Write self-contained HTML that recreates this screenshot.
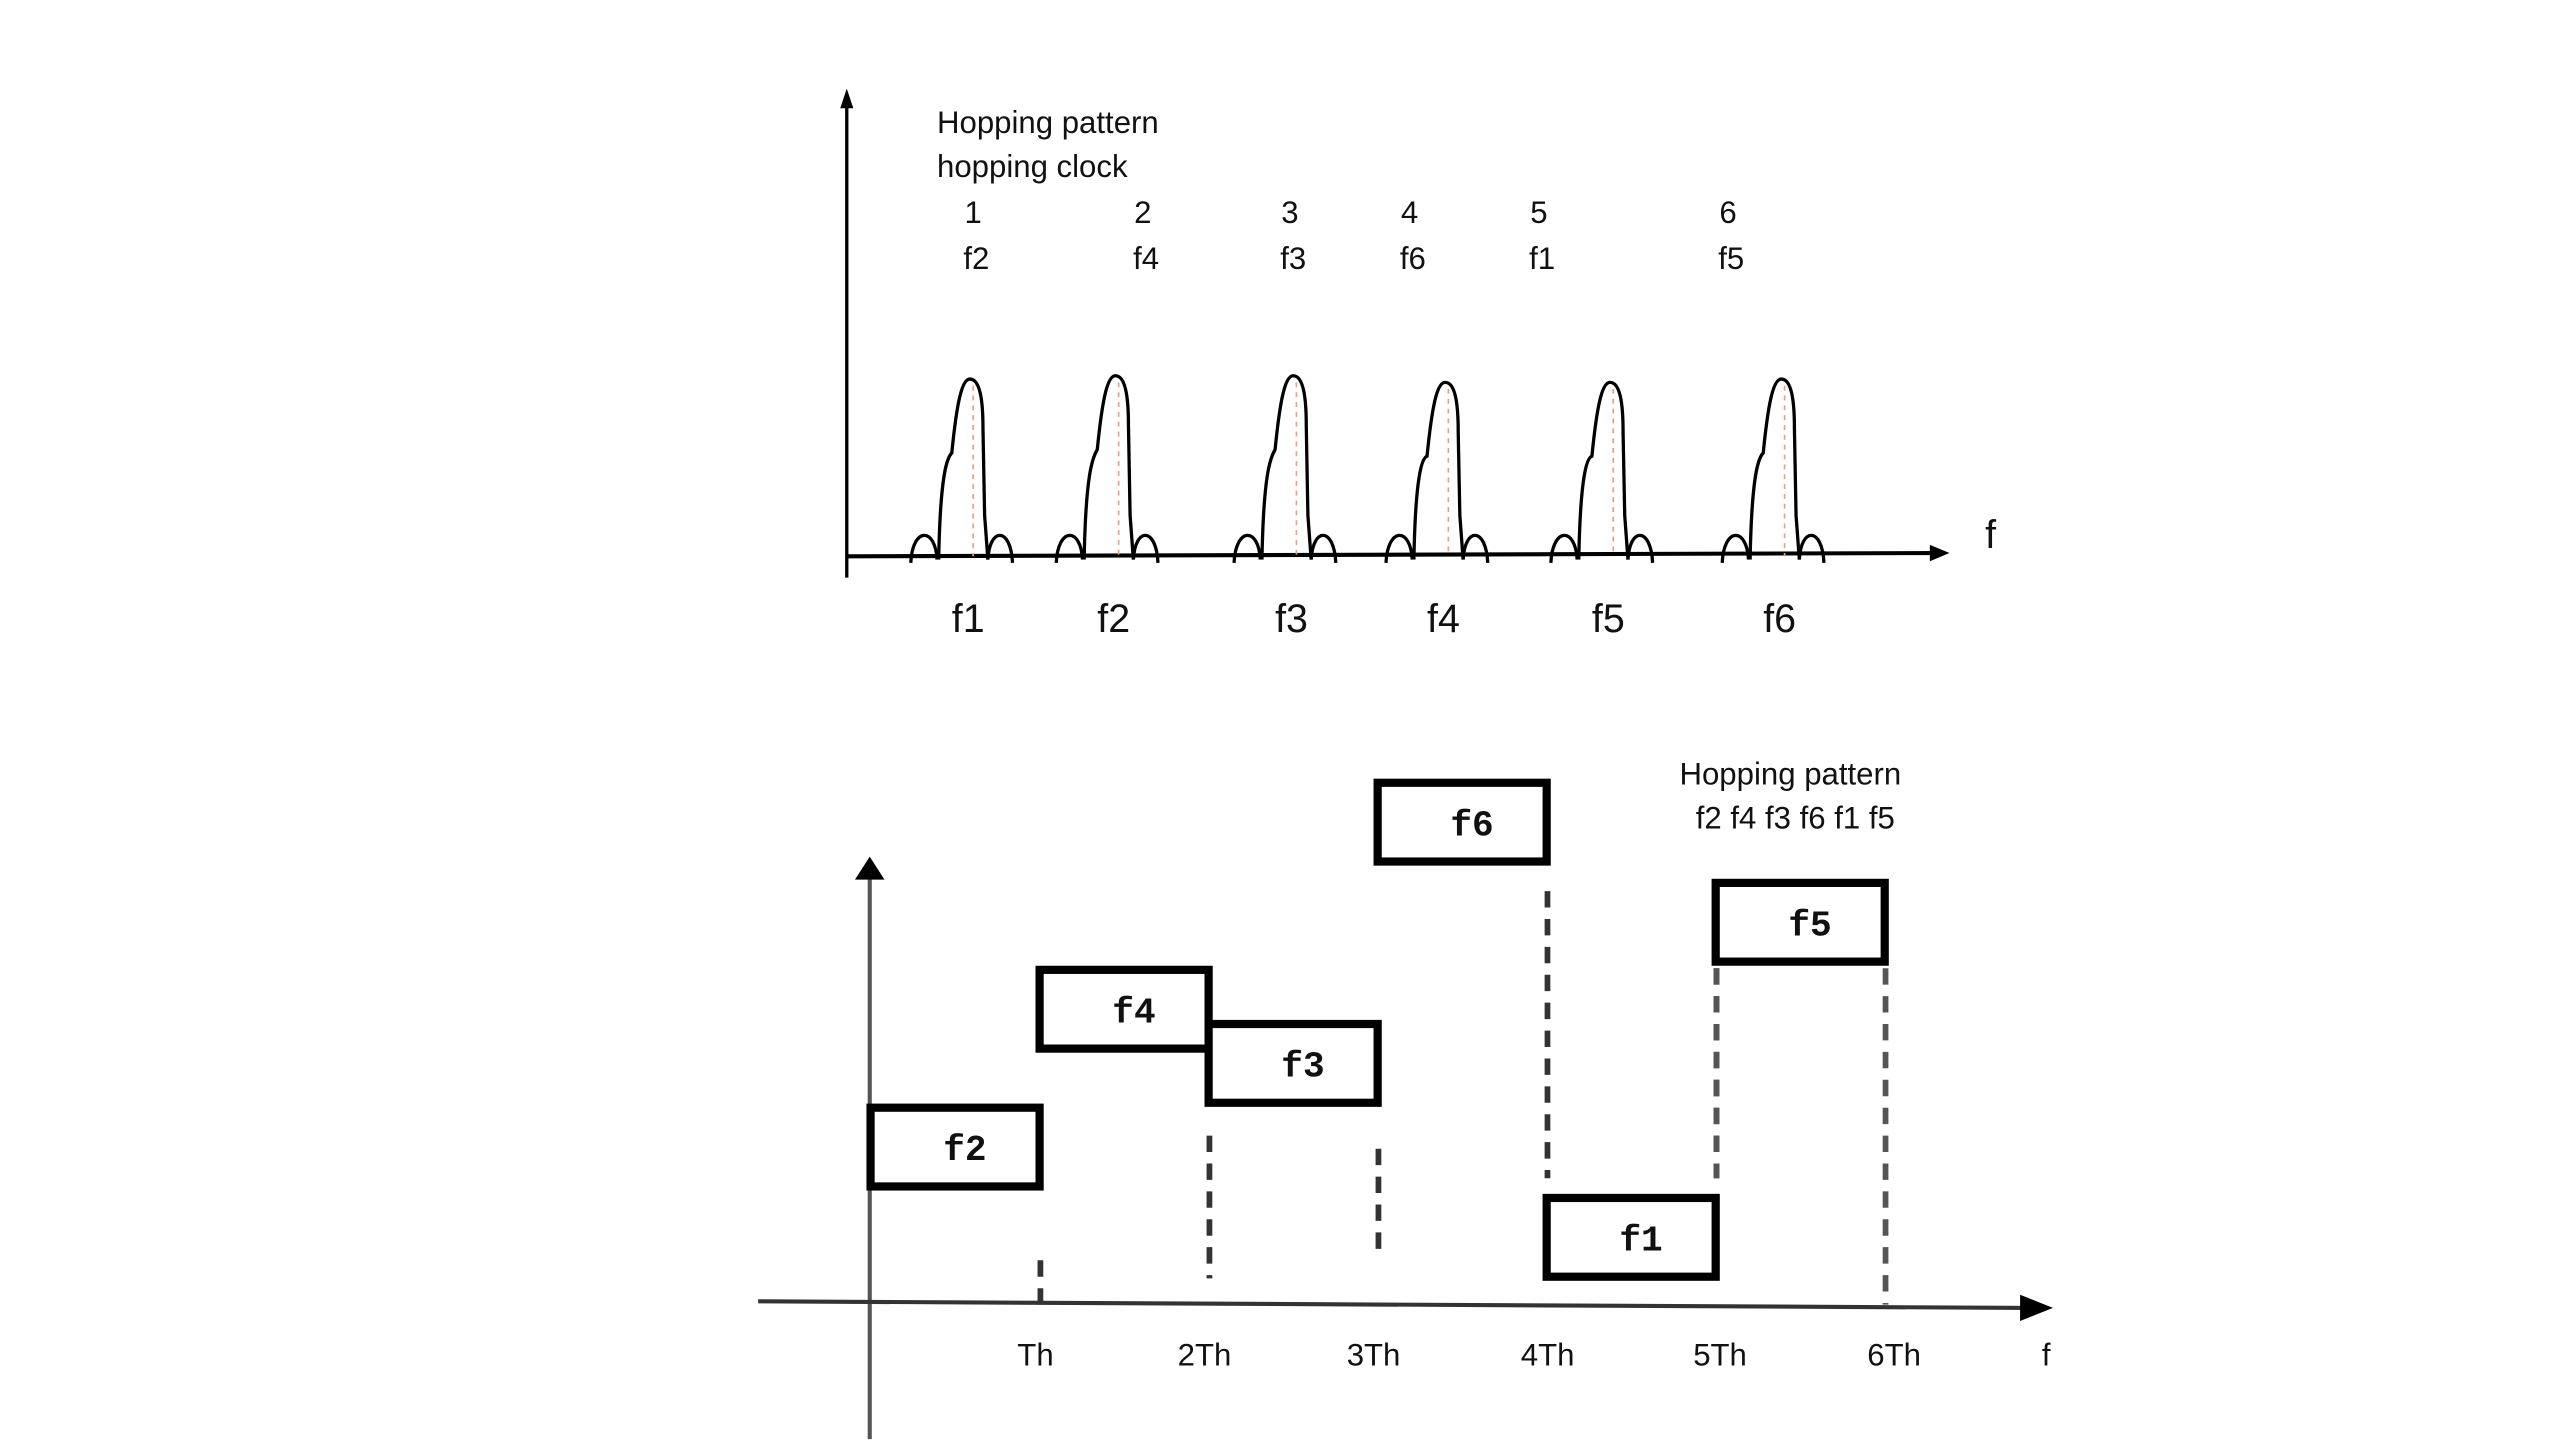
<!DOCTYPE html>
<html><head><meta charset="utf-8"><style>
html,body{margin:0;padding:0;background:#fff;}
svg{display:block;}
text{font-family:"Liberation Sans",sans-serif;fill:#111;}
.mono{font-family:"Liberation Mono",monospace;font-weight:bold;}
</style></head><body>
<svg id="chart" width="2560" height="1440" viewBox="0 0 1560 877.5" preserveAspectRatio="none" xmlns="http://www.w3.org/2000/svg">
<g id="top">
  <line x1="516" y1="62" x2="516" y2="352" stroke="#000" stroke-width="2"/>
  <polygon points="516,54 512,66 520,66" fill="#000"/>
  <line x1="516" y1="339" x2="1180" y2="337" stroke="#000" stroke-width="2.5"/>
  <polygon points="1188,337 1176,332 1176,342" fill="#000"/>
  <text x="1213" y="334" font-size="24" text-anchor="middle">f</text>
  <text x="571" y="81" font-size="19">Hopping pattern</text>
  <text x="571" y="108" font-size="19">hopping clock</text>
  <g id="peaks"></g>
  <g id="toplabels"></g>
</g>
<g id="bottom">
  <line x1="530" y1="532" x2="530" y2="877" stroke="#555" stroke-width="2.5"/>
  <polygon points="530,522 521,536 539,536" fill="#000"/>
  <line x1="462" y1="793" x2="1236" y2="797" stroke="#333" stroke-width="2.5"/>
  <polygon points="1251,797 1231,789 1231,805" fill="#000"/>
  <text x="1091" y="478" font-size="19" text-anchor="middle">Hopping pattern</text>
  <text x="1094" y="505" font-size="19" text-anchor="middle">f2 f4 f3 f6 f1 f5</text>
  <g id="hops"></g>
</g>
</svg>
<script>
// Top spectrum data
const peakLabels = ["f1","f2","f3","f4","f5","f6"];
const peakPos = [1, 1.9, 3.0, 3.94, 4.96, 6.02];
const peakHeight = [108, 110, 110, 106, 106, 108];
const clockNums = ["1","2","3","4","5","6"];
const clockFreqs = ["f2","f4","f3","f6","f1","f5"];
const clockPos = [1, 2.05, 2.96, 3.7, 4.5, 5.67];
// Bottom hopping data
const hopLabels = ["f2","f4","f3","f6","f1","f5"];
const hopSlot = [0, 1, 2, 3, 4, 5];
const hopLevel = [96, 180, 147, 294, 41, 233];
const tickLabels = ["Th","2Th","3Th","4Th","5Th","6Th","f"];
const tickPos = [1, 2, 3, 4.03, 5.05, 6.08, 6.98];
const dashTop = [0, 103, 95, 252, 205, 205];
const dashBot = [30, 16, 30, 77, 77, 0];

const NS="http://www.w3.org/2000/svg";
function mk(t,a,p){const e=document.createElementNS(NS,t);for(const k in a)e.setAttribute(k,a[k]);p.appendChild(e);return e;}
const fx = v => 593 + (v-1)*98.5;
const fy = h => 339 - h;
const tx = s => 528 + s*103;
const ty = l => 795 - l;

const pk=document.getElementById('peaks');
peakPos.forEach((p,i)=>{
  const c=fx(p), top=fy(peakHeight[i]), b=339;
  const g=mk('g',{},pk);
  
  
  const d=`M${c-21},${b+2} C${c-20},${b-50} ${c-16},${b-60} ${c-13},${top+45} C${c-10},${top+15} ${c-7},${top} ${c-2},${top} C${c+4},${top} ${c+6},${top+12} ${c+6},${top+30} L${c+7},${b-25} L${c+9},${b+2}`;
  mk('path',{d:d,fill:'none',stroke:'#000','stroke-width':2},g);
  mk('line',{x1:c,y1:top+4,x2:c,y2:b,stroke:'#e8a080','stroke-width':1,'stroke-dasharray':'3,3'},g);
  mk('path',{d:`M${c-38},${b+4} C${c-37},${b-18} ${c-23},${b-18} ${c-22},${b+2}`,fill:'none',stroke:'#000','stroke-width':2},g);
  mk('path',{d:`M${c+9},${b+2} C${c+10},${b-18} ${c+23},${b-18} ${c+24},${b+4}`,fill:'none',stroke:'#000','stroke-width':2},g);
});
const tl=document.getElementById('toplabels');
peakLabels.forEach((l,i)=>{
  const t=mk('text',{x:fx(peakPos[i])-3,y:385,'font-size':24,'text-anchor':'middle'},tl);
  
  
  t.textContent=l;
});
clockNums.forEach((n,i)=>{
  const x=fx(clockPos[i]);
  const a=mk('text',{x:x,y:136,'font-size':19,'text-anchor':'middle'},tl);
  
  
  a.textContent=n;
  const b=mk('text',{x:x+2,y:164,'font-size':19,'text-anchor':'middle'},tl);
  
  
  b.textContent=clockFreqs[i];
});

const hp=document.getElementById('hops');
hopLabels.forEach((l,i)=>{
  const x=tx(hopSlot[i]), yc=ty(hopLevel[i]);
  const g=mk('g',{},hp);
  
  
  mk('rect',{x:x+2.5,y:yc-24,width:103,height:48,fill:'#fff',stroke:'#000','stroke-width':5},g);
  const t=mk('text',{x:x+60,y:yc+8,'font-size':22,'text-anchor':'middle',class:'mono'},g);
  t.textContent=l;
  // dashed line at right edge
  const dx = x+106;
  const y1 = yc+24 + dashBot[i]*0+ (i===0?14:i===1?28:i===2?26:i===3?16:i===4?0:0);
  if(i<5){
    const dl=mk('line',{x1:dx,y1:ty(dashTop[i]),x2:dx,y2:ty(dashBot[i]),stroke:'#333','stroke-width':3.5,'stroke-dasharray':'10,7'},hp);
    
    
  } else {
    [x+3,x+106].forEach((xx,k)=>{
      const dl=mk('line',{x1:xx,y1:yc+28,x2:xx,y2:ty(k?dashBot[i]:dashBot[4]),stroke:'#555','stroke-width':3.5,'stroke-dasharray':'10,7'},hp);
      
      
    });
  }
});
tickLabels.forEach((l,i)=>{
  const t=mk('text',{x:tx(tickPos[i]),y:832,'font-size':19,'text-anchor':'middle'},hp);
  
  
  t.textContent=l;
});
</script>
</body></html>
